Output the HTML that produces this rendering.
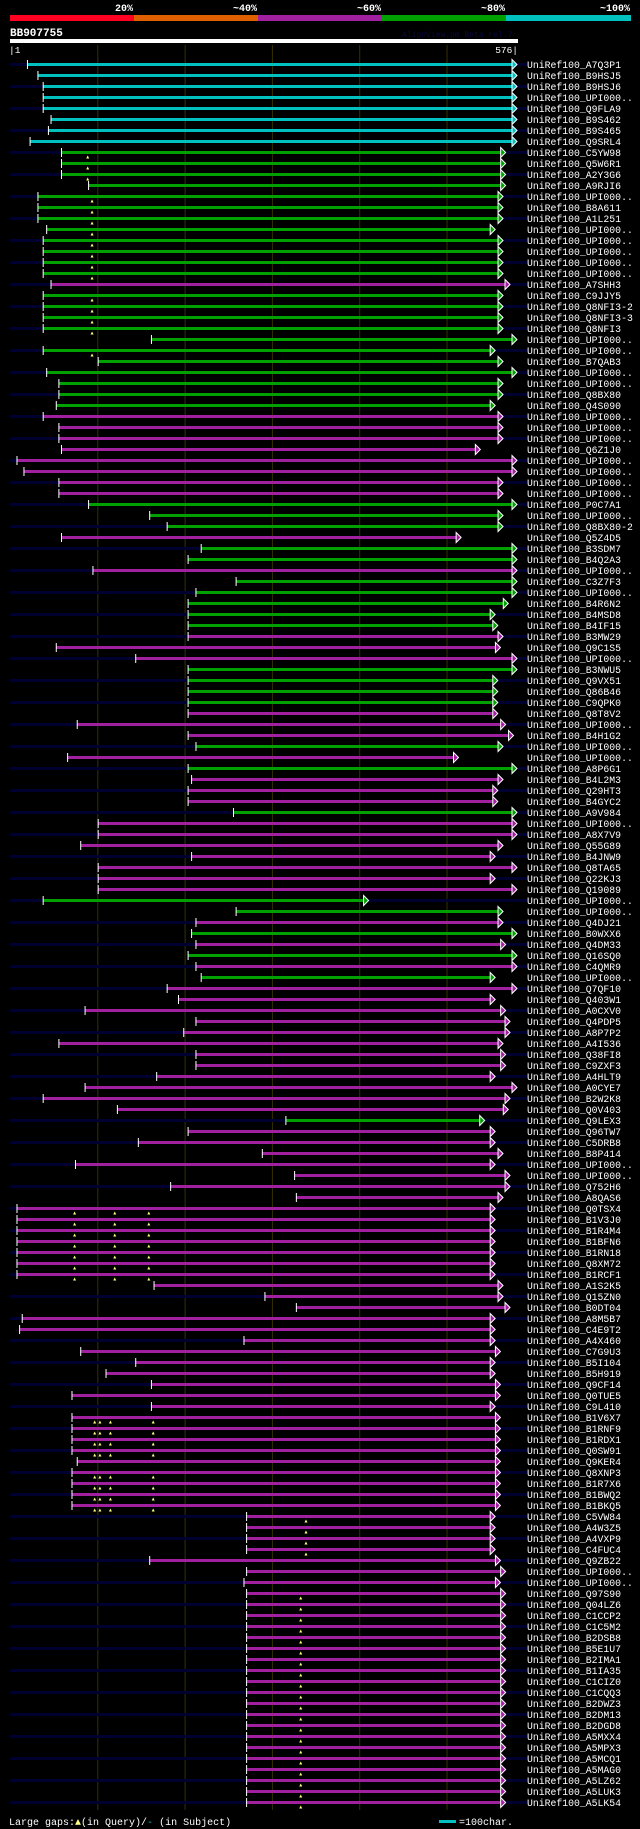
<!DOCTYPE html>
<html><head><meta charset="utf-8">
<style>
html,body{margin:0;padding:0;background:#000;}
body{width:640px;height:1829px;overflow:hidden;}
svg{display:block;}
text{font-family:"Liberation Mono","DejaVu Sans Mono",monospace;}
</style></head>
<body>
<svg id="chart" width="640" height="1829" viewBox="0 0 640 1829" xmlns="http://www.w3.org/2000/svg">
  <g>
    <rect x="10" y="15" width="124" height="6" fill="#ff0022"/>
    <rect x="134" y="15" width="124" height="6" fill="#e06000"/>
    <rect x="258" y="15" width="124" height="6" fill="#a020a0"/>
    <rect x="382" y="15" width="124" height="6" fill="#00a000"/>
    <rect x="506" y="15" width="125" height="6" fill="#00c0c0"/>
    <text x="133" y="11" text-anchor="end" fill="#fff" font-size="10" font-weight="bold">20%</text>
    <text x="257" y="11" text-anchor="end" fill="#fff" font-size="10" font-weight="bold">~40%</text>
    <text x="381" y="11" text-anchor="end" fill="#fff" font-size="10" font-weight="bold">~60%</text>
    <text x="505" y="11" text-anchor="end" fill="#fff" font-size="10" font-weight="bold">~80%</text>
    <text x="630" y="11" text-anchor="end" fill="#fff" font-size="10" font-weight="bold">~100%</text>
  </g>
  <text x="10" y="36" fill="#fff" font-size="11" font-weight="bold">BB907755</text>
  <text x="402" y="37" fill="#0a0a40" font-size="8">AlignView.pm Beta rel.7</text>
  <rect x="10" y="39" width="508" height="4" fill="#fff"/>
  <text x="9" y="53" fill="#fff" font-size="9.5">|1</text>
  <text x="518" y="53" text-anchor="end" fill="#fff" font-size="9.5">576|</text>
  <g id="grid"></g>
  <g id="rows"></g>
  <g>
    <text x="9" y="1825" fill="#fff" font-size="10">Large gaps:<tspan fill="#ffff80">▲</tspan>(in Query)/<tspan fill="#00c0c0">-</tspan> (in Subject)</text>
    <rect x="439" y="1820" width="17" height="3" fill="#00c0c0"/>
    <text x="459" y="1825" fill="#fff" font-size="10">=100char.</text>
  </g>
</svg>
<script>
const labels = ["A7Q3P1","B9HSJ5","B9HSJ6","UPI000..","Q9FLA9","B9S462","B9S465","Q9SRL4","C5YW98","Q5W6R1","A2Y3G6","A9RJI6","UPI000..","B8A611","A1L251","UPI000..","UPI000..","UPI000..","UPI000..","UPI000..","A7SHH3","C9JJY5","Q8NFI3-2","Q8NFI3-3","Q8NFI3","UPI000..","UPI000..","B7QAB3","UPI000..","UPI000..","Q8BX80","Q4S090","UPI000..","UPI000..","UPI000..","Q6Z1J0","UPI000..","UPI000..","UPI000..","UPI000..","P0C7A1","UPI000..","Q8BX80-2","Q5Z4D5","B3SDM7","B4Q2A3","UPI000..","C3Z7F3","UPI000..","B4R6N2","B4MSD8","B4IF15","B3MW29","Q9C1S5","UPI000..","B3NWU5","Q9VX51","Q86B46","C9QPK0","Q8T8V2","UPI000..","B4H1G2","UPI000..","UPI000..","A8P6G1","B4L2M3","Q29HT3","B4GYC2","A9V984","UPI000..","A8X7V9","Q55G89","B4JNW9","Q8TA65","Q22KJ3","Q19089","UPI000..","UPI000..","Q4DJ21","B0WXX6","Q4DM33","Q16SQ0","C4QMR9","UPI000..","Q7QF10","Q403W1","A0CXV0","Q4PDP5","A8P7P2","A4I536","Q38FI8","C9ZXF3","A4HLT9","A0CYE7","B2W2K8","Q0V403","Q9LEX3","Q96TW7","C5DRB8","B8P414","UPI000..","UPI000..","Q752H6","A8QAS6","Q0TSX4","B1V3J0","B1R4M4","B1BFN6","B1RN18","Q8XM72","B1RCF1","A1S2K5","Q15ZN0","B0DT04","A8M5B7","C4E9T2","A4X460","C7G9U3","B5I104","B5H919","Q9CF14","Q0TUE5","C9L410","B1V6X7","B1RNF9","B1RDX1","Q0SW91","Q9KER4","Q8XNP3","B1R7X6","B1BWQ2","B1BKQ5","C5VW84","A4W3Z5","A4VXP9","C4FUC4","Q9ZB22","UPI000..","UPI000..","Q97S90","Q04LZ6","C1CCP2","C1C5M2","B2DSB8","B5E1U7","B2IMA1","B1IA35","C1CIZ0","C1CQQ3","B2DWZ3","B2DM13","B2DGD8","A5MXX4","A5MPX3","A5MCQ1","A5MAG0","A5LZ62","A5LUK3","A5LK54"];

const starts = [21,33,39,39,39,48,45,24,60,60,60,91,33,33,33,43,39,39,39,39,48,39,39,39,39,163,39,102,43,57,57,54,39,57,57,60,9,17,57,57,91,161,181,60,220,205,96,260,214,205,205,205,205,54,145,205,205,205,205,205,78,205,214,67,205,209,205,205,257,102,102,82,209,102,102,102,39,260,214,209,214,205,214,220,181,194,87,214,200,57,214,214,169,87,39,124,317,205,148,290,76,327,185,329,9,9,9,9,9,9,9,166,293,329,15,12,269,82,145,111,163,72,163,72,72,72,72,78,72,72,72,72,272,272,272,272,161,272,269,272,272,272,272,272,272,272,272,272,272,272,272,272,272,272,272,272,272,272,272];

const ends = [576,576,576,576,576,576,576,576,563,563,563,563,560,560,560,551,560,560,560,560,568,560,560,560,560,576,551,560,576,560,560,551,560,560,560,534,576,576,560,560,576,560,560,512,576,576,576,576,576,566,551,554,560,557,576,576,554,554,554,554,563,572,560,509,576,560,554,554,576,576,576,560,551,576,551,576,406,560,560,576,563,576,576,551,576,551,563,568,568,560,563,563,551,576,568,566,539,551,551,560,551,568,568,560,551,551,551,551,551,551,551,560,560,568,551,551,551,557,551,551,557,557,551,557,557,557,557,557,557,557,557,557,551,551,551,551,557,563,557,563,563,563,563,563,563,563,563,563,563,563,563,563,563,563,563,563,563,563,563];

// identity class: c = cyan (~100%), g = green (~80%), m = magenta (~60%)
const classes = "ccccccccggggggggggggmgggggggggggmmmmmmmmgggmggmgggggmmmggggmmmgmgmmmgmmmmmmmggmgmgmgmmmmmmmmmmmmgmmmmmmmmmmmmmmmmmmmmmmmmmmmmmmmmmmmmmmmmmmmmmmmmmmmmmmmmmmmmmmmm";

// gap marks (query residue positions) keyed by row index
const gapRowsA = [8,9,10];           const gapPosA = [90];
const gapRowsB = [12,13,14,15,16,17,18,19,21,22,23,24,26]; const gapPosB = [95];
const gapRowsC = [104,105,106,107,108,109,110]; const gapPosC = [75,121,160];
const gapRowsD = [123,124,125,126,128,129,130,131]; const gapPosD = [98,104,116,165];
const gapRowsE = [132,133,134,135]; const gapPosE = [340];
const gapRowsF = [139,140,141,142,143,144,145,146,147,148,149,150,151,152,153,154,155,156,157,158]; const gapPosF = [334];

const gridTicks = [101,201,301,401,501];

const colorMap = {c:"#00c0c0", g:"#00a000", m:"#a020a0"};
const NS = "http://www.w3.org/2000/svg";
const X0 = 10, X1 = 512, QLEN = 576;
function xScale(r){ return X0 + (r-1)*(X1-X0)/(QLEN-1); }
const ROW0 = 64.5, ROWH = 11;
function yScale(i){ return ROW0 + i*ROWH; }

function mk(tag, attrs){
  const el = document.createElementNS(NS, tag);
  for (const k in attrs) el.setAttribute(k, attrs[k]);
  return el;
}

const grid = document.getElementById('grid');
gridTicks.forEach(function(t){
  const ln = mk('line', {x1:xScale(t)+0.5, x2:xScale(t)+0.5, y1:45, y2:1810, stroke:"#353000", 'stroke-width':1});
  
  
  grid.appendChild(ln);
});

const rows = document.getElementById('rows');
const gapMap = {};
[[gapRowsA,gapPosA],[gapRowsB,gapPosB],[gapRowsC,gapPosC],[gapRowsD,gapPosD],[gapRowsE,gapPosE],[gapRowsF,gapPosF]].forEach(function(p){
  p[0].forEach(function(r){ gapMap[r] = p[1]; });
});

labels.forEach(function(lab, i){
  const cy = yScale(i);
  const g = mk('g', {});
  
  
  if (i % 2 === 0){
    const s = mk('rect', {x:10, y:cy-1.5, width:517, height:3, fill:"#000030"});
    
    
    g.appendChild(s);
  }
  const col = colorMap[classes[i]];
  const xs = xScale(starts[i]), xe = xScale(ends[i]);
  const bar = mk('rect', {x:xs, y:cy-1.5, width:xe-xs, height:3, fill:col});
  
  
  g.appendChild(bar);
  const tick = mk('rect', {x:xs-0.5, y:cy-4.5, width:1, height:9, fill:"#fff"});
  
  
  g.appendChild(tick);
  const arr = mk('polygon', {points:(xe)+","+(cy-5)+" "+(xe+5)+","+cy+" "+(xe)+","+(cy+5), fill:col, stroke:"#fff", 'stroke-width':1});
  
  
  g.appendChild(arr);
  (gapMap[i] || []).forEach(function(p){
    const gx = xScale(p);
    const m = mk('polygon', {points:(gx-1.5)+","+(cy+6)+" "+gx+","+(cy+3)+" "+(gx+1.5)+","+(cy+6), fill:"#ffff80"});
    
    
    g.appendChild(m);
  });
  const t = mk('text', {x:527, y:cy+3.5, fill:"#fff", 'font-size':"9.8"});
  t.textContent = "UniRef100_" + lab;
  
  
  g.appendChild(t);
  rows.appendChild(g);
});
</script>
</body></html>
